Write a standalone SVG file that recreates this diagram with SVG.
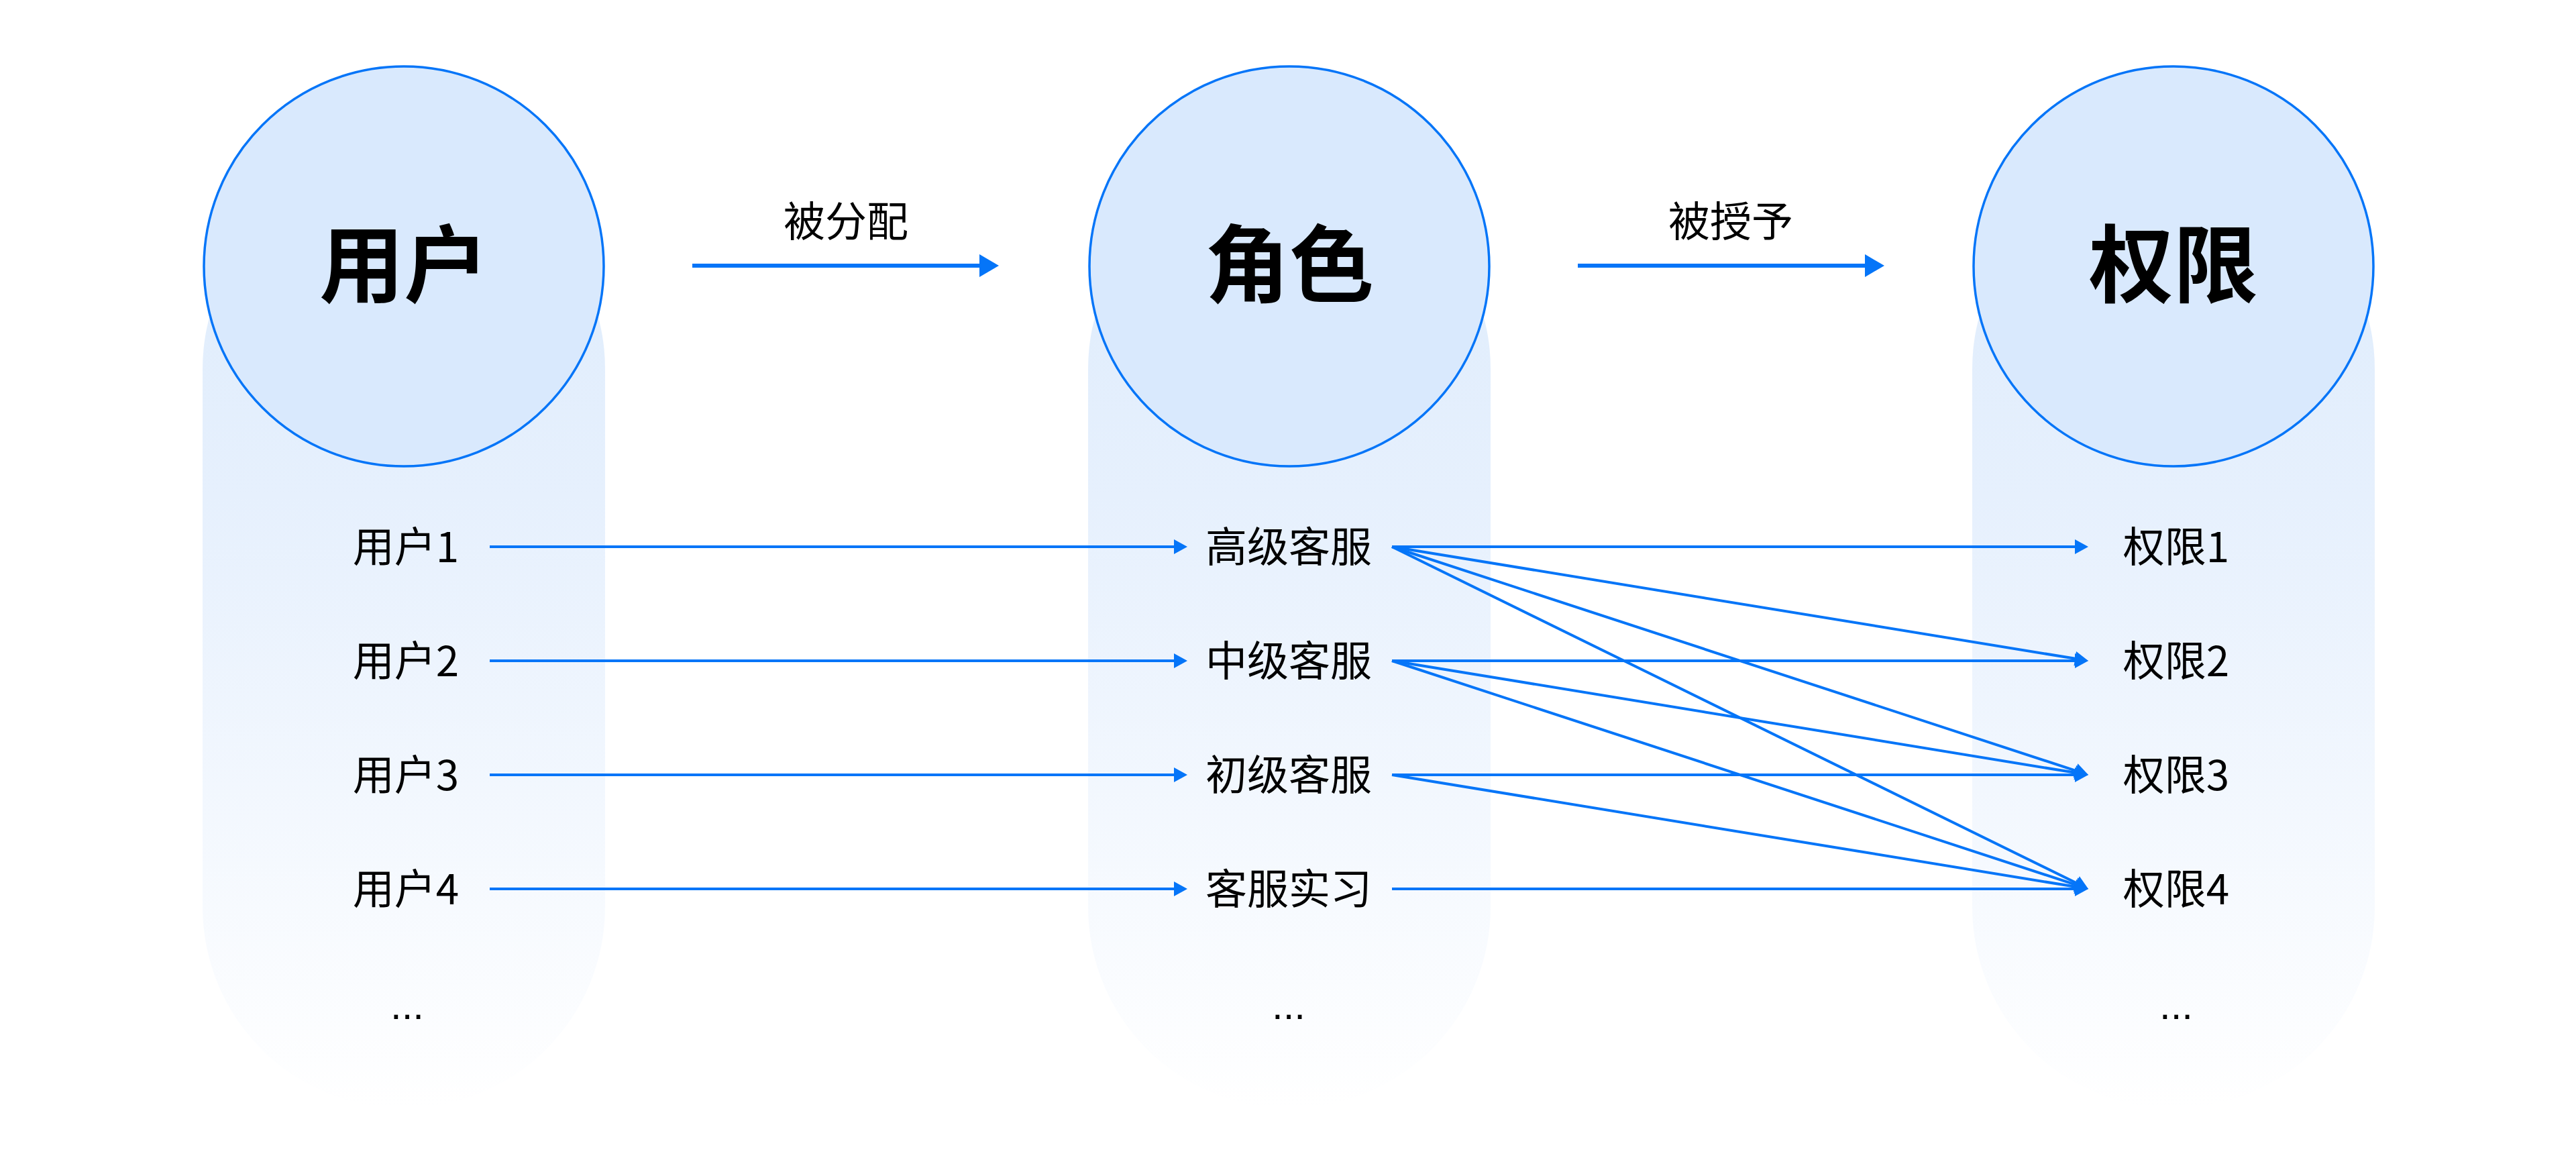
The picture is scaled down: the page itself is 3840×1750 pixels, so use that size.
<svg xmlns="http://www.w3.org/2000/svg" width="3840" height="1750" viewBox="0 0 3840 1750">
  <defs>
    <linearGradient id="colGrad" x1="0" y1="250" x2="0" y2="1652" gradientUnits="userSpaceOnUse">
      <stop offset="0" stop-color="#DEECFC"/>
      <stop offset="0.35" stop-color="#E6F0FD"/>
      <stop offset="1" stop-color="#FFFFFF"/>
    </linearGradient>
    <marker id="headBig" markerUnits="userSpaceOnUse" markerWidth="30" markerHeight="34" refX="2" refY="17" orient="auto" overflow="visible">
      <path d="M0,0 L29,17 L0,34 Z" fill="#0575F8"/>
    </marker>
    <marker id="head" markerUnits="userSpaceOnUse" markerWidth="20" markerHeight="22" refX="2" refY="11" orient="auto" overflow="visible">
      <path d="M0,0 L20,11 L0,22 Z" fill="#0575F8"/>
    </marker>
    <style>
      .col { fill: url(#colGrad); }
      .circ { fill: #D9E9FD; stroke: #0575F8; stroke-width: 3.5; }
      .title { font-family: "Noto Sans CJK SC", "Noto Sans", sans-serif; font-size: 126px; font-weight: 700; fill: #000; text-anchor: middle; }
      .lbl { font-family: "Noto Sans CJK SC", "Noto Sans", sans-serif; font-size: 62px; fill: #000; text-anchor: middle; }
      .dots { font-family: "Liberation Sans", "Noto Sans", sans-serif; font-size: 60px; fill: #000; text-anchor: middle; }
      .big { stroke: #0575F8; stroke-width: 6; fill: none; marker-end: url(#headBig); }
      .ln { stroke: #0575F8; stroke-width: 4; fill: none; marker-end: url(#head); }
    </style>
  </defs>

  <rect width="3840" height="1750" fill="#FFFFFF"/>

  <g id="node-users">
    <rect class="col" x="302" y="250" width="600" height="1402" rx="300" ry="300"/>
    <circle class="circ" cx="602" cy="397" r="298"/>
    <text class="title" x="602" y="441">用户</text>
  </g>
  <g id="node-roles">
    <rect class="col" x="1622" y="250" width="600" height="1402" rx="300" ry="300"/>
    <circle class="circ" cx="1922" cy="397" r="298"/>
    <text class="title" x="1922" y="441">角色</text>
  </g>
  <g id="node-perms">
    <rect class="col" x="2940" y="250" width="600" height="1402" rx="300" ry="300"/>
    <circle class="circ" cx="3240" cy="397" r="298"/>
    <text class="title" x="3240" y="441">权限</text>
  </g>

  <g id="label-assign">
    <text class="lbl" x="1261" y="353">被分配</text>
  </g>
  <g id="label-grant">
    <text class="lbl" x="2580" y="353">被授予</text>
  </g>

  <g id="user1"><text class="lbl" x="605" y="838">用户1</text></g>
  <g id="user2"><text class="lbl" x="605" y="1008">用户2</text></g>
  <g id="user3"><text class="lbl" x="605" y="1178">用户3</text></g>
  <g id="user4"><text class="lbl" x="605" y="1348">用户4</text></g>
  <g id="user-more"><text class="dots" x="607" y="1519">...</text></g>

  <g id="role1"><text class="lbl" x="1921" y="838">高级客服</text></g>
  <g id="role2"><text class="lbl" x="1921" y="1008">中级客服</text></g>
  <g id="role3"><text class="lbl" x="1921" y="1178">初级客服</text></g>
  <g id="role4"><text class="lbl" x="1921" y="1348">客服实习</text></g>
  <g id="role-more"><text class="dots" x="1921" y="1519">...</text></g>

  <g id="perm1"><text class="lbl" x="3244" y="838">权限1</text></g>
  <g id="perm2"><text class="lbl" x="3244" y="1008">权限2</text></g>
  <g id="perm3"><text class="lbl" x="3244" y="1178">权限3</text></g>
  <g id="perm4"><text class="lbl" x="3244" y="1348">权限4</text></g>
  <g id="perm-more"><text class="dots" x="3244" y="1519">...</text></g>

  <g id="connectors">
    <line class="big" x1="1032" y1="396" x2="1462" y2="396"/>
    <line class="big" x1="2352" y1="396" x2="2782" y2="396"/>

    <line class="ln" x1="730" y1="815" x2="1752" y2="815"/>
    <line class="ln" x1="730" y1="985" x2="1752" y2="985"/>
    <line class="ln" x1="730" y1="1155" x2="1752" y2="1155"/>
    <line class="ln" x1="730" y1="1325" x2="1752" y2="1325"/>

    <line class="ln" x1="2075" y1="815" x2="3095" y2="815"/>
    <line class="ln" x1="2075" y1="815" x2="3095.24" y2="982.09"/>
    <line class="ln" x1="2075" y1="815" x2="3095.89" y2="1149.4"/>
    <line class="ln" x1="2075" y1="815" x2="3096.84" y2="1317.06"/>

    <line class="ln" x1="2075" y1="985" x2="3095" y2="985"/>
    <line class="ln" x1="2075" y1="985" x2="3095.24" y2="1152.09"/>
    <line class="ln" x1="2075" y1="985" x2="3095.89" y2="1319.4"/>

    <line class="ln" x1="2075" y1="1155" x2="3095" y2="1155"/>
    <line class="ln" x1="2075" y1="1155" x2="3095.24" y2="1322.09"/>

    <line class="ln" x1="2075" y1="1325" x2="3095" y2="1325"/>
  </g>
</svg>
